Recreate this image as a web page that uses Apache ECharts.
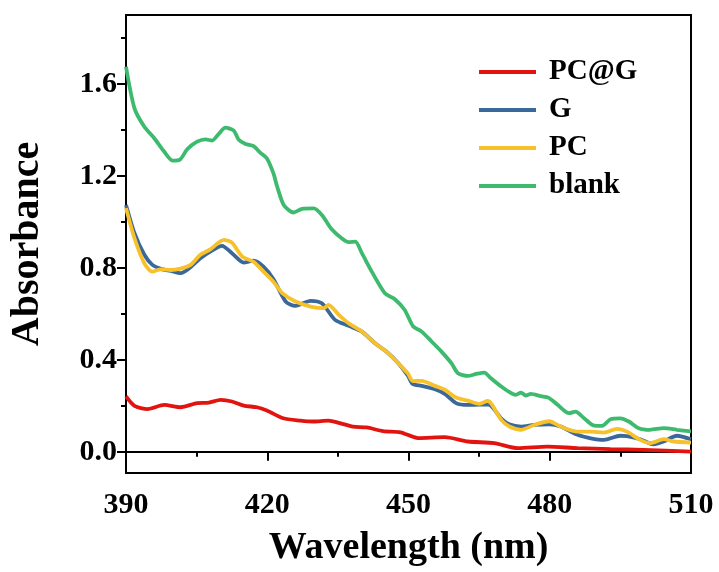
<!DOCTYPE html>
<html>
<head>
<meta charset="utf-8">
<script src="https://cdn.jsdelivr.net/npm/echarts@6/dist/echarts.min.js"></script>
<style>html,body{margin:0;padding:0;background:#fff;}#c{width:719px;height:572px;}</style>
</head>
<body>
<div id="c"></div>
<script>
const seriesNames = ['PC@G', 'G', 'PC', 'blank'];
const seriesColors = ['#e2140f', '#3a6898', '#f7c12c', '#3dba6e'];

const yLabelTicks = [0, 0.4, 0.8, 1.2, 1.6];
const yMinorTicks = [0.2, 0.6, 1.0, 1.4, 1.8];

const pcgData = [[390,0.241],[391.8,0.2],[394.6,0.186],[398.1,0.204],[401.6,0.194],[405.1,0.212],[407.6,0.214],[410.1,0.226],[412.5,0.219],[415,0.201],[417.8,0.194],[419.9,0.18],[423.4,0.146],[427,0.136],[429.8,0.132],[433,0.136],[435.4,0.125],[438.2,0.11],[441.1,0.106],[444.6,0.09],[448.3,0.085],[452,0.06],[457.7,0.064],[462.6,0.045],[468.2,0.038],[473.2,0.016],[479.5,0.023],[485.9,0.016],[492.9,0.012],[499.9,0.009],[510,0.001]];

const gData = [[390,1.074],[391.8,0.951],[393.9,0.857],[395.6,0.813],[397.4,0.796],[399.5,0.787],[401.6,0.777],[403.7,0.803],[405.8,0.842],[407.9,0.871],[410.4,0.896],[412.5,0.864],[415,0.823],[417.1,0.832],[419.2,0.806],[421.3,0.752],[423.9,0.654],[426,0.635],[429.2,0.657],[431.6,0.646],[434.4,0.574],[437.3,0.548],[440.1,0.523],[442.9,0.472],[445.7,0.429],[447.8,0.386],[449.9,0.33],[450.9,0.295],[452.8,0.287],[455.6,0.272],[457.7,0.252],[460.1,0.212],[462.6,0.204],[465.1,0.205],[467,0.205],[469.7,0.145],[471.4,0.12],[473.9,0.11],[476.7,0.117],[479.9,0.12],[482.3,0.11],[485.9,0.074],[488.7,0.059],[491.5,0.052],[495,0.07],[496.4,0.068],[499.2,0.055],[502,0.033],[504.2,0.045],[507,0.07],[510,0.055]];

const pcData = [[390,1.06],[391.8,0.929],[393.9,0.82],[395.6,0.784],[397.4,0.794],[399.5,0.791],[401.6,0.797],[403.7,0.813],[405.8,0.857],[407.9,0.881],[410.8,0.922],[412.5,0.91],[414.7,0.849],[417.1,0.827],[419.2,0.784],[421.3,0.74],[423.2,0.69],[426,0.654],[429.2,0.632],[432,0.625],[433,0.639],[435.2,0.596],[437.3,0.559],[440.1,0.523],[442.9,0.472],[445.7,0.429],[447.8,0.386],[449.9,0.34],[450.9,0.308],[452.8,0.309],[455.6,0.287],[457.7,0.27],[460.1,0.236],[462.6,0.223],[465.1,0.209],[466.8,0.222],[469.7,0.139],[471.4,0.11],[473.9,0.096],[476.7,0.117],[479.9,0.133],[482.3,0.11],[485.9,0.088],[488.7,0.088],[491.5,0.084],[494.3,0.1],[496.4,0.088],[499.2,0.052],[501.3,0.038],[504.2,0.055],[506.3,0.045],[510,0.04]];

const blankData = [[390,1.675],[391.8,1.494],[393.9,1.414],[396,1.364],[398.1,1.306],[399.9,1.267],[401.5,1.272],[403,1.316],[405.1,1.349],[406.9,1.359],[408.3,1.354],[409.7,1.383],[411.1,1.41],[412.9,1.397],[413.9,1.359],[415.4,1.339],[417.1,1.33],[418.5,1.301],[419.9,1.277],[421.3,1.212],[422.1,1.154],[423.5,1.074],[425.6,1.041],[427.4,1.057],[429.9,1.059],[431.6,1.03],[433.7,0.968],[435.8,0.929],[437.3,0.912],[438.7,0.914],[440.1,0.864],[442.2,0.784],[445,0.69],[447.1,0.664],[449.2,0.617],[451,0.545],[452.8,0.523],[454.9,0.48],[457,0.436],[459.1,0.386],[460.5,0.342],[462.6,0.33],[464.4,0.339],[466.1,0.345],[467.5,0.32],[469.7,0.284],[471.8,0.255],[472.8,0.248],[473.9,0.258],[474.9,0.245],[476,0.252],[478.1,0.242],[479.7,0.236],[481.6,0.206],[484.1,0.168],[485.5,0.175],[487.3,0.146],[489.4,0.114],[491.1,0.113],[492.9,0.142],[495,0.146],[496.8,0.132],[498.9,0.103],[501.3,0.096],[504.2,0.103],[507,0.096],[510,0.089]];

const allData = [pcgData, gData, pcData, blankData];

const FONT = 'Liberation Serif';
const chart = echarts.init(document.getElementById('c'), null, {renderer: 'canvas'});

const option = {
  animation: false,
  backgroundColor: '#fff',
  grid: {left: 123, right: 28, top: 15, bottom: 99, show: true, borderColor: '#000', borderWidth: 2, backgroundColor: 'transparent'},
  legend: {
    orient: 'vertical', left: 474, top: 52,
    icon: 'rect', itemWidth: 57, itemHeight: 4, itemGap: 8,
    textStyle: {fontFamily: FONT, fontWeight: 'bold', fontSize: 29, color: '#000', lineHeight: 30, padding: [0,0,0,8]},
    data: seriesNames
  },
  xAxis: {
    type: 'value', min: 390, max: 510, interval: 30,
    name: 'Wavelength (nm)', nameLocation: 'middle', nameGap: 56,
    nameTextStyle: {fontFamily: FONT, fontWeight: 'bold', fontSize: 38, color: '#000'},
    axisLine: {show: true, lineStyle: {color: '#000', width: 2}},
    axisTick: {show: true, inside: false, length: 9, lineStyle: {color: '#000', width: 2}},
    minorTick: {show: true, splitNumber: 2, length: 5, lineStyle: {color: '#000', width: 2}},
    splitLine: {show: false},
    axisLabel: {fontFamily: FONT, fontWeight: 'bold', fontSize: 30, color: '#000', margin: 17}
  },
  yAxis: [{
    type: 'value', min: -0.092, max: 1.9,
    name: 'Absorbance', nameLocation: 'middle', nameGap: 78, nameRotate: 90,
    nameTextStyle: {fontFamily: FONT, fontWeight: 'bold', fontSize: 40, color: '#000'},
    axisLine: {show: true, lineStyle: {color: '#000', width: 2}},
    axisTick: {show: true, inside: false, length: 9, customValues: yLabelTicks, lineStyle: {color: '#000', width: 2}},
    splitLine: {show: false},
    axisLabel: {fontFamily: FONT, fontWeight: 'bold', fontSize: 30, color: '#000', margin: 9,
      customValues: yLabelTicks, formatter: v => v.toFixed(1)}
  }, {
    type: 'value', min: -0.092, max: 1.9, position: 'left',
    axisLine: {show: false},
    axisTick: {show: true, inside: false, length: 5, customValues: yMinorTicks, lineStyle: {color: '#000', width: 2}},
    axisLabel: {show: false, customValues: yMinorTicks},
    splitLine: {show: false}
  }],
  series: seriesNames.map((n, i) => ({
    name: n, type: 'line', yAxisIndex: 0, data: allData[i],
    showSymbol: false, symbol: 'none', smooth: 0.25,
    lineStyle: {color: seriesColors[i], width: 3.8},
    itemStyle: {color: seriesColors[i]},
    z: 2 + i
  }))
};
chart.setOption(option);
</script>
</body>
</html>
